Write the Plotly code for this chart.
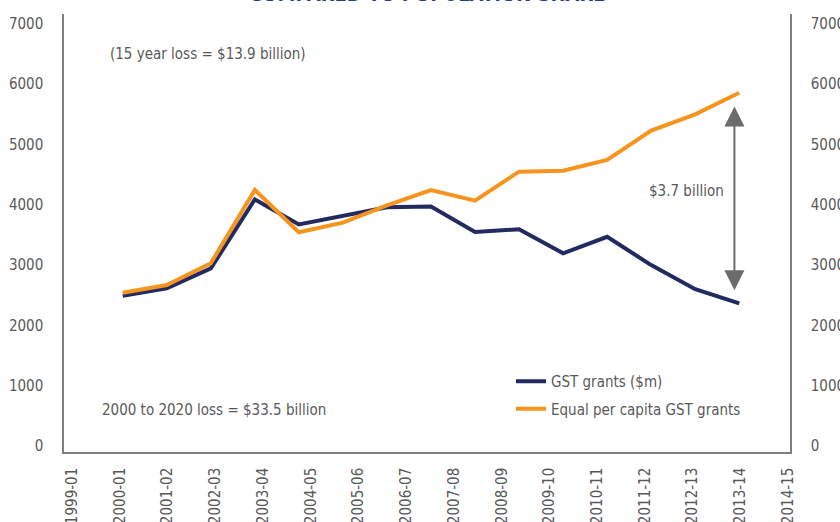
import plotly.graph_objects as go

# ---- data ----
categories = ["1999-01", "2000-01", "2001-02", "2002-03", "2003-04", "2004-05",
              "2005-06", "2006-07", "2007-08", "2008-09", "2009-10", "2010-11",
              "2011-12", "2012-13", "2013-14", "2014-15"]
gst_grants = [2490, 2615, 2945, 4090, 3675, 3820, 3960, 3970, 3550, 3595,
              3195, 3470, 3000, 2600, 2365]
equal_per_capita = [2540, 2670, 3030, 4245, 3545, 3705, 3990, 4245, 4070, 4550,
                    4565, 4745, 5230, 5500, 5860]
y_ticks = [0, 1000, 2000, 3000, 4000, 5000, 6000, 7000]

FONT = "DejaVu Sans Condensed, Liberation Sans Narrow, sans-serif"
FS = 15
GRAY = "#595959"
AXIS = "#7f7f7f"
NAVY = "#222a60"
ORANGE = "#f7941d"

idx = list(range(len(gst_grants)))
cat_idx = list(range(len(categories)))

fig = go.Figure()
fig.add_trace(go.Scatter(x=idx, y=gst_grants, xaxis="x", yaxis="y", mode="lines",
                         name="GST grants ($m)", legendgroup="a",
                         line=dict(color=NAVY, width=4)))
fig.add_trace(go.Scatter(x=idx, y=equal_per_capita, xaxis="x", yaxis="y", mode="lines",
                         name="Equal per capita GST grants", legendgroup="b",
                         line=dict(color=ORANGE, width=4)))
# invisible carrier trace so the category axis and right axis are drawn
fig.add_trace(go.Scatter(x=cat_idx, y=[None] * len(cat_idx), xaxis="x2", yaxis="y2",
                         mode="lines", showlegend=False, hoverinfo="skip"))

yr = [-100, 7165]
tf = dict(family=FONT, size=FS, color=GRAY)
fig.update_layout(
    width=840, height=522,
    margin=dict(l=64, r=50, t=14, b=70, autoexpand=False),
    paper_bgcolor="white", plot_bgcolor="white",
    font=dict(family=FONT, size=FS, color=GRAY),
    showlegend=True,
    legend=dict(x=(511 - 64) / 726, y=(452 - 365) / 438,
                xanchor="left", yanchor="top", font=dict(family=FONT, size=FS, color=GRAY),
                bgcolor="rgba(0,0,0,0)", itemwidth=30, tracegroupgap=5),
    xaxis=dict(range=[-1.333, 15.152], visible=False, automargin=False),
    xaxis2=dict(overlaying="x", anchor="y2", side="bottom", range=[-0.168, 15.04],
                tickmode="array", tickvals=cat_idx, ticktext=categories,
                tickangle=-90, showgrid=False, zeroline=False,
                showline=True, linecolor=AXIS, linewidth=1.5,
                ticks="", ticklabelstandoff=8, tickfont=tf, automargin=False),
    yaxis=dict(range=yr, tickvals=y_ticks, showgrid=False, zeroline=False,
               showline=True, linecolor=AXIS, linewidth=1.5, ticks="",
               ticklabelstandoff=16, tickfont=tf, automargin=False),
    yaxis2=dict(range=yr, tickvals=y_ticks, overlaying="y", side="right", anchor="x2",
                showgrid=False, zeroline=False, showline=True, linecolor=AXIS,
                linewidth=1.5, ticks="", ticklabelstandoff=16, tickfont=tf,
                automargin=False),
)

annotations = [
    dict(text="COMPARED TO POPULATION SHARE", xref="paper", yref="paper",
         x=(428 - 64) / 726, y=1 + 6 / 438, xanchor="center", yanchor="bottom",
         showarrow=False,
         font=dict(family="DejaVu Sans Condensed, sans-serif", size=20,
                   color="#2b3a8c", weight="bold")),
    dict(text="(15 year loss = $13.9 billion)", xref="paper", yref="paper",
         x=(108 - 64) / 726, y=(452 - 54) / 438, xanchor="left", yanchor="middle",
         showarrow=False),
    dict(text="2000 to 2020 loss = $33.5 billion", xref="paper", yref="paper",
         x=(100 - 64) / 726, y=(452 - 410) / 438, xanchor="left", yanchor="middle",
         showarrow=False),
    dict(text="$3.7 billion", xref="paper", yref="paper",
         x=(726 - 64) / 726, y=(452 - 191) / 438, xanchor="right", yanchor="middle",
         showarrow=False),
    dict(text="", xref="x", yref="y", axref="x", ayref="y",
         x=idx[-1] - 0.11, y=equal_per_capita[-1] - 230,
         ax=idx[-1] - 0.11, ay=gst_grants[-1] + 195,
         showarrow=True, arrowhead=2, arrowside="end+start", arrowsize=2.0,
         arrowwidth=2, arrowcolor="#6b6b6b", standoff=0, startstandoff=0),
]
fig.update_layout(annotations=annotations)

fig.write_html("out.html", config={"displayModeBar": False},
               post_script="document.body.style.margin='0';document.body.style.overflow='hidden';")
